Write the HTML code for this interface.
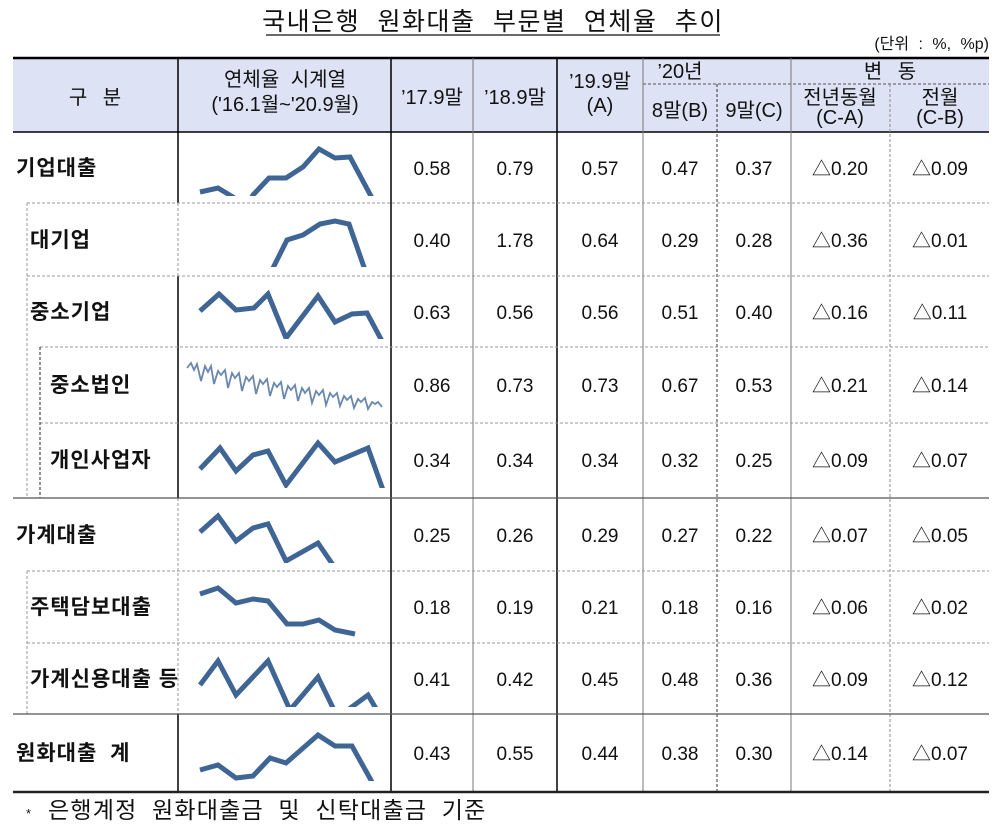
<!DOCTYPE html><html><head><meta charset="utf-8"><style>body{margin:0;background:#fff}svg{display:block}text{font-family:"Liberation Sans","Noto Sans CJK KR",sans-serif;fill:#111}.b{font-weight:bold;font-size:21px;letter-spacing:1px}.n{font-size:19px;text-anchor:middle}.h{font-size:20px;text-anchor:middle}.sp{fill:none;stroke:#3e6594;stroke-width:5;stroke-linejoin:miter}</style></head><body>
<svg width="1000" height="830" viewBox="0 0 1000 830" xmlns="http://www.w3.org/2000/svg">
<defs>
<clipPath id="c1"><rect x="180" y="133" width="210" height="63"/></clipPath>
<clipPath id="c2"><rect x="180" y="205" width="210" height="62"/></clipPath>
<clipPath id="c3"><rect x="180" y="277" width="210" height="62"/></clipPath>
<clipPath id="c5"><rect x="180" y="424" width="210" height="64"/></clipPath>
<clipPath id="c6"><rect x="180" y="499" width="210" height="64"/></clipPath>
<clipPath id="c8"><rect x="180" y="644" width="210" height="63"/></clipPath>
<clipPath id="c9"><rect x="180" y="715" width="210" height="66"/></clipPath>
</defs>
<text x="493" y="30" font-size="25" text-anchor="middle" letter-spacing="1.5" word-spacing="9">국내은행 원화대출 부문별 연체율 추이</text>
<line x1="266" y1="35" x2="720" y2="35" stroke="#111" stroke-width="1.2"/>
<text x="989" y="49" font-size="16" text-anchor="end" word-spacing="5">(단위 : %, %p)</text>
<rect x="13" y="58" width="976" height="74" fill="#dde3f5"/>
<line x1="13" y1="58" x2="989" y2="58" stroke="#000" stroke-width="2.5"/>
<line x1="13" y1="132" x2="989" y2="132" stroke="#000" stroke-width="1.5"/>
<line x1="643" y1="84" x2="989" y2="84" stroke="#555" stroke-dasharray="3,2"/>
<g stroke="#000" stroke-width="1.5"><line x1="391" y1="58" x2="391" y2="792"/><line x1="557" y1="58" x2="557" y2="792"/></g>
<g stroke="#777" stroke-width="1"><line x1="473" y1="58" x2="473" y2="792"/><line x1="643" y1="58" x2="643" y2="792"/><line x1="791" y1="58" x2="791" y2="792"/></g>
<g stroke="#333" stroke-width="1" stroke-dasharray="3,2"><line x1="717" y1="84" x2="717" y2="792"/></g>
<g stroke="#888" stroke-width="1" stroke-dasharray="3,2"><line x1="890" y1="84" x2="890" y2="792"/></g>
<g stroke="#000" stroke-width="1.5"><line x1="178" y1="58" x2="178" y2="203"/><line x1="178" y1="276" x2="178" y2="498"/><line x1="178" y1="714" x2="178" y2="792"/></g>
<g stroke="#999" stroke-width="1" stroke-dasharray="3,2"><line x1="178" y1="203" x2="178" y2="276"/><line x1="178" y1="498" x2="178" y2="714"/>
<line x1="27" y1="203" x2="989" y2="203"/><line x1="27" y1="276" x2="989" y2="276"/><line x1="40" y1="347" x2="989" y2="347"/><line x1="40" y1="423" x2="989" y2="423"/><line x1="27" y1="571" x2="989" y2="571"/><line x1="27" y1="643" x2="989" y2="643"/>
<line x1="27" y1="203" x2="27" y2="498"/><line x1="27" y1="571" x2="27" y2="714"/></g>
<line x1="40" y1="347" x2="40" y2="498" stroke="#222" stroke-dasharray="3,2"/>
<g stroke="#555" stroke-width="1.2"><line x1="13" y1="498" x2="989" y2="498"/><line x1="13" y1="714" x2="989" y2="714"/></g>
<line x1="13" y1="792" x2="989" y2="792" stroke="#222" stroke-width="2.5"/>
<text class="h" x="95" y="104" font-size="21" word-spacing="10">구 분</text>
<text class="h" x="285" y="86" word-spacing="6">연체율 시계열</text><text class="h" x="285" y="111">('16.1월~'20.9월)</text>
<text class="h" x="432" y="104">’17.9말</text><text class="h" x="515" y="104">’18.9말</text>
<text class="h" x="600" y="88">’19.9말</text><text class="h" x="600" y="112" font-size="16">(A)</text>
<text class="h" x="680" y="78">’20년</text>
<text class="h" x="680" y="117" font-size="17">8말(B)</text><text class="h" x="754" y="117" font-size="17">9말(C)</text>
<text class="h" x="890" y="78" word-spacing="10">변 동</text>
<text class="h" x="840" y="104">전년동월</text><text class="h" x="840" y="124">(C-A)</text>
<text class="h" x="940" y="104">전월</text><text class="h" x="940" y="124">(C-B)</text>
<g><text class="b" x="16" y="175">기업대출</text><text class="b" x="30" y="247">대기업</text><text class="b" x="30" y="319">중소기업</text><text class="b" x="50" y="392">중소법인</text><text class="b" x="50" y="467">개인사업자</text><text class="b" x="16" y="542">가계대출</text><text class="b" x="30" y="614" letter-spacing="0.5">주택담보대출</text><text class="b" x="30" y="686" letter-spacing="-0.5" font-size="20">가계신용대출 등</text><text class="b" x="16" y="760" word-spacing="6">원화대출 계</text></g>
<g>
<text class="n" y="175"><tspan x="432">0.58</tspan><tspan x="515">0.79</tspan><tspan x="600">0.57</tspan><tspan x="680">0.47</tspan><tspan x="754">0.37</tspan><tspan x="840">△0.20</tspan><tspan x="940">△0.09</tspan></text>
<text class="n" y="247"><tspan x="432">0.40</tspan><tspan x="515">1.78</tspan><tspan x="600">0.64</tspan><tspan x="680">0.29</tspan><tspan x="754">0.28</tspan><tspan x="840">△0.36</tspan><tspan x="940">△0.01</tspan></text>
<text class="n" y="319"><tspan x="432">0.63</tspan><tspan x="515">0.56</tspan><tspan x="600">0.56</tspan><tspan x="680">0.51</tspan><tspan x="754">0.40</tspan><tspan x="840">△0.16</tspan><tspan x="940">△0.11</tspan></text>
<text class="n" y="392"><tspan x="432">0.86</tspan><tspan x="515">0.73</tspan><tspan x="600">0.73</tspan><tspan x="680">0.67</tspan><tspan x="754">0.53</tspan><tspan x="840">△0.21</tspan><tspan x="940">△0.14</tspan></text>
<text class="n" y="467"><tspan x="432">0.34</tspan><tspan x="515">0.34</tspan><tspan x="600">0.34</tspan><tspan x="680">0.32</tspan><tspan x="754">0.25</tspan><tspan x="840">△0.09</tspan><tspan x="940">△0.07</tspan></text>
<text class="n" y="542"><tspan x="432">0.25</tspan><tspan x="515">0.26</tspan><tspan x="600">0.29</tspan><tspan x="680">0.27</tspan><tspan x="754">0.22</tspan><tspan x="840">△0.07</tspan><tspan x="940">△0.05</tspan></text>
<text class="n" y="614"><tspan x="432">0.18</tspan><tspan x="515">0.19</tspan><tspan x="600">0.21</tspan><tspan x="680">0.18</tspan><tspan x="754">0.16</tspan><tspan x="840">△0.06</tspan><tspan x="940">△0.02</tspan></text>
<text class="n" y="686"><tspan x="432">0.41</tspan><tspan x="515">0.42</tspan><tspan x="600">0.45</tspan><tspan x="680">0.48</tspan><tspan x="754">0.36</tspan><tspan x="840">△0.09</tspan><tspan x="940">△0.12</tspan></text>
<text class="n" y="760"><tspan x="432">0.43</tspan><tspan x="515">0.55</tspan><tspan x="600">0.44</tspan><tspan x="680">0.38</tspan><tspan x="754">0.30</tspan><tspan x="840">△0.14</tspan><tspan x="940">△0.07</tspan></text>
</g>
<polyline class="sp" clip-path="url(#c1)" points="200,192 218,188 233,197 243,205"/>
<polyline class="sp" clip-path="url(#c1)" points="248,205 253,195 269,178 286,178 303,167 319,149 335,158 350,157 372,198"/>
<polyline class="sp" clip-path="url(#c2)" points="272,270 287,240 303,235 320,224 335,221 349,224 365,270"/>
<polyline class="sp" clip-path="url(#c3)" points="200,311 219,294 236,310 254,308 268,294 286,338 318,296 335,322 352,314 367,313 382,341"/>
<polyline fill="none" stroke="#6a87ad" stroke-width="1.8" points="187,368 191,363 194,370 197,364 201,381 205,366 208,372 211,366 214,384 218,371 221,375 225,370 228,388 232,373 235,378 239,373 242,391 246,377 249,381 253,376 256,394 260,380 263,384 267,379 270,396 274,383 277,387 281,382 284,399 288,386 291,390 295,385 298,401 302,388 305,393 309,388 312,403 316,391 319,395 323,390 326,405 330,393 333,397 337,393 340,406 344,396 347,400 351,396 354,408 358,399 361,402 365,398 368,409 372,402 375,404 378,402 382,407"/>
<polyline class="sp" clip-path="url(#c5)" points="200,469 220,448 236,471 253,455 268,451 286,485 318,443 335,462 368,448 383,490"/>
<polyline class="sp" clip-path="url(#c6)" points="200,532 218,516 236,541 253,528 268,524 286,561 318,543 333,565"/>
<polyline class="sp" stroke-width="3.5" points="200,594 218,588 236,603 253,599 268,601 287,624 303,624 319,620 335,630 355,634"/>
<polyline class="sp" clip-path="url(#c8)" points="200,685 218,661 236,695 268,661 290,710 318,677 335,712"/>
<polyline class="sp" clip-path="url(#c8)" points="345,712 368,695 378,712"/>
<polyline class="sp" clip-path="url(#c9)" points="200,770 218,765 236,778 253,776 270,758 286,763 318,735 335,746 352,746 372,782"/>
<text x="26" y="818" font-size="13">*</text>
<text x="48" y="818" font-size="23" letter-spacing="1.2" word-spacing="7">은행계정 원화대출금 및 신탁대출금 기준</text>
</svg>
</body></html>
